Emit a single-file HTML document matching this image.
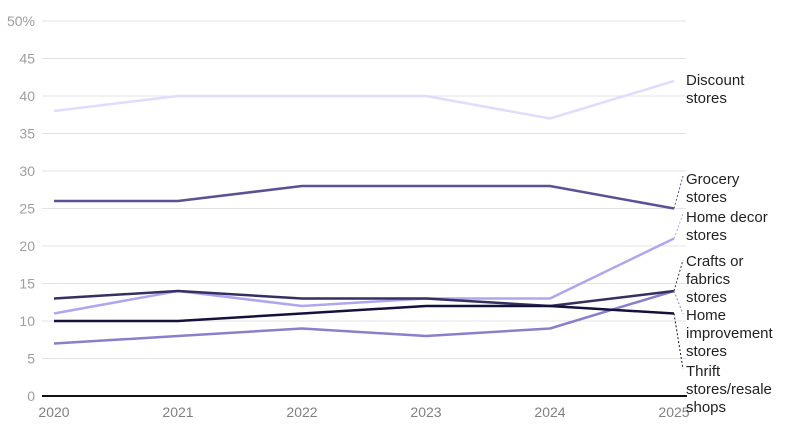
<!DOCTYPE html>
<html><head><meta charset="utf-8"><style>
html,body{margin:0;padding:0;background:#fff;}
svg{display:block;font-family:"Liberation Sans",Arial,sans-serif;}
</style></head><body>
<svg width="788" height="437" viewBox="0 0 788 437" xmlns="http://www.w3.org/2000/svg">
<g stroke="#e3e3e3" stroke-width="1">
<line x1="42" y1="21" x2="686" y2="21"/>
<line x1="42" y1="58.5" x2="686" y2="58.5"/>
<line x1="42" y1="96" x2="686" y2="96"/>
<line x1="42" y1="133.5" x2="686" y2="133.5"/>
<line x1="42" y1="171" x2="686" y2="171"/>
<line x1="42" y1="208.5" x2="686" y2="208.5"/>
<line x1="42" y1="246" x2="686" y2="246"/>
<line x1="42" y1="283.5" x2="686" y2="283.5"/>
<line x1="42" y1="321" x2="686" y2="321"/>
<line x1="42" y1="358.5" x2="686" y2="358.5"/>
</g>
<g fill="#9e9e9e" font-size="14" text-anchor="end">
<text x="35" y="26">50%</text>
<text x="35" y="63.5">45</text>
<text x="35" y="101">40</text>
<text x="35" y="138.5">35</text>
<text x="35" y="176">30</text>
<text x="35" y="213.5">25</text>
<text x="35" y="251">20</text>
<text x="35" y="288.5">15</text>
<text x="35" y="326">10</text>
<text x="35" y="363.5">5</text>
<text x="35" y="401">0</text>
</g>
<g fill="#808080" font-size="14" text-anchor="middle">
<text x="54" y="417">2020</text>
<text x="178" y="417">2021</text>
<text x="302" y="417">2022</text>
<text x="426" y="417">2023</text>
<text x="550" y="417">2024</text>
<text x="674" y="417">2025</text>
</g>
<g fill="none" stroke-width="2.5" stroke-linejoin="round">
<polyline stroke="#e3dbff" points="54,111 178,96 302,96 426,96 550,118.5 674,81"/>
<polyline stroke="#5b5294" points="54,201 178,201 302,186 426,186 550,186 674,208.5"/>
<polyline stroke="#b0a6ee" points="54,313.5 178,291 302,306 426,298.5 550,298.5 674,238.5"/>
<polyline stroke="#8a7fcc" points="54,343.5 178,336 302,328.5 426,336 550,328.5 674,291"/>
<polyline stroke="#34305f" points="54,298.5 178,291 302,298.5 426,298.5 550,306 674,291"/>
<polyline stroke="#14123d" points="54,321 178,321 302,313.5 426,306 550,306 674,313.5"/>
</g>
<line x1="42" y1="396" x2="687" y2="396" stroke="#111" stroke-width="2"/>
<g fill="none" stroke-width="1" stroke-dasharray="2,2">
<line x1="674" y1="208.5" x2="683" y2="176" stroke="#5b5294"/>
<line x1="674" y1="238.5" x2="683" y2="214" stroke="#b0a6ee"/>
<line x1="674" y1="291" x2="683" y2="260" stroke="#34305f"/>
<line x1="674" y1="291" x2="683" y2="314" stroke="#8a7fcc"/>
<line x1="674" y1="313.5" x2="683" y2="369" stroke="#14123d"/>
</g>
<g fill="#222" font-size="15">
<text x="686" y="85">Discount</text>
<text x="686" y="103">stores</text>
<text x="686" y="184">Grocery</text>
<text x="686" y="202">stores</text>
<text x="686" y="222">Home decor</text>
<text x="686" y="240">stores</text>
<text x="686" y="266">Crafts or</text>
<text x="686" y="284">fabrics</text>
<text x="686" y="302">stores</text>
<text x="686" y="320">Home</text>
<text x="686" y="338">improvement</text>
<text x="686" y="356">stores</text>
<text x="686" y="376">Thrift</text>
<text x="686" y="394">stores/resale</text>
<text x="686" y="412">shops</text>
</g>
</svg>
</body></html>
